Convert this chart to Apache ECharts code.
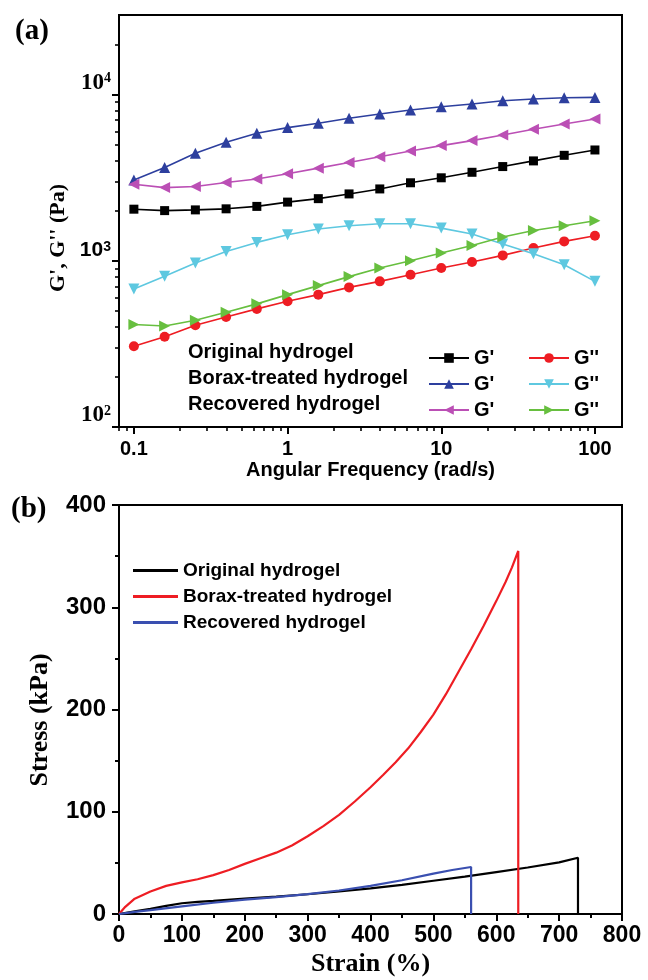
<!DOCTYPE html>
<html><head><meta charset="utf-8">
<script src="https://cdn.jsdelivr.net/npm/echarts@6/dist/echarts.min.js"></script>
<style>html,body{margin:0;padding:0;background:#fff}#c{width:648px;height:980px}</style>
</head><body><div id="c"></div>
<script>
// ---------- Panel (a): rheology ----------
const freq = [0.1, 0.1585, 0.2512, 0.3981, 0.631, 1, 1.585, 2.512, 3.981, 6.31, 10, 15.85, 25.12, 39.81, 63.1, 100];
const origGp   = [2040, 2000, 2020, 2050, 2120, 2250, 2360, 2520, 2700, 2940, 3150, 3400, 3680, 3980, 4300, 4630];
const origGpp  = [306, 349, 409, 459, 513, 570, 625, 691, 751, 824, 904, 982, 1076, 1191, 1306, 1413];
const boraxGp  = [3060, 3630, 4430, 5150, 5830, 6310, 6700, 7180, 7620, 8050, 8430, 8750, 9160, 9370, 9550, 9590];
const boraxGpp = [676, 805, 968, 1137, 1288, 1432, 1549, 1622, 1667, 1667, 1570, 1445, 1259, 1102, 946, 751];
const recGp    = [2880, 2750, 2790, 2950, 3100, 3330, 3600, 3890, 4220, 4570, 4920, 5270, 5700, 6170, 6640, 7110];
const recGpp   = [413, 405, 438, 490, 550, 625, 708, 802, 904, 1000, 1112, 1235, 1387, 1520, 1622, 1738];
const freqMajor = [0.1, 1, 10, 100];
const freqMinor = [0.08, 0.09, 0.2, 0.3, 0.4, 0.5, 0.6, 0.7, 0.8, 0.9, 2, 3, 4, 5, 6, 7, 8, 9, 20, 30, 40, 50, 60, 70, 80, 90];
const modMajor = [100, 1000, 10000];
const modMinor = [200, 300, 400, 500, 600, 700, 800, 900, 2000, 3000, 4000, 5000, 6000, 7000, 8000, 9000, 20000];
const rowLabels = ['Original hydrogel', 'Borax-treated hydrogel', 'Recovered hydrogel'];

// ---------- Panel (b): tensile ----------
const strainOrig  = [0, 25, 50, 75, 100, 125, 150, 200, 250, 300, 350, 400, 450, 500, 550, 600, 650, 700, 730, 730];
const stressOrig  = [0, 2.5, 5, 8, 10.5, 11.8, 12.8, 15, 17, 19.3, 22, 25, 28.5, 32.5, 36.5, 41, 45.5, 50.5, 55, 0];
const strainBorax = [0, 10, 25, 50, 75, 100, 125, 150, 175, 200, 225, 250, 275, 300, 325, 350, 375, 400, 420, 440, 460, 480, 500, 520, 540, 560, 580, 600, 615, 625, 635, 635];
const stressBorax = [0, 7, 15, 22, 27.5, 31, 34, 38, 43, 49, 54.5, 60, 67, 76, 86, 97, 110, 124, 136, 148.5, 162, 178, 195, 215, 237, 259, 282, 306, 325, 339, 355, 0];
const strainRec   = [0, 25, 50, 100, 150, 200, 250, 300, 350, 400, 450, 500, 530, 560, 560];
const stressRec   = [0, 2, 3.8, 7.5, 11, 14, 16.5, 19.5, 23, 27.5, 33, 39.5, 43, 46, 0];
const tensileNames = ['Original hydrogel', 'Borax-treated hydrogel', 'Recovered hydrogel'];

const SANS = '"Liberation Sans", Arial, sans-serif';
const SERIF = '"Liberation Serif", "Times New Roman", serif';

function pairs(xs, ys) { return xs.map((x, i) => [x, ys[i]]); }

const chart = echarts.init(document.getElementById('c'), null, {renderer: 'canvas'});

const rheo = [
  {name: "Original G'", data: origGp, color: '#000000', symbol: 'rect', size: 9, rot: 0},
  {name: "Borax G'", data: boraxGp, color: '#2d3f9e', symbol: 'triangle', size: 11, rot: 0},
  {name: "Recovered G'", data: recGp, color: '#bb4fb5', symbol: 'triangle', size: 11, rot: 90},
  {name: "Original G''", data: origGpp, color: '#ee1d23', symbol: 'circle', size: 10, rot: 0},
  {name: "Borax G''", data: boraxGpp, color: '#5ec8e0', symbol: 'triangle', size: 11, rot: 180},
  {name: "Recovered G''", data: recGpp, color: '#67bf3f', symbol: 'triangle', size: 11, rot: -90}
];

const series = rheo.map(s => ({
  type: 'line', name: s.name, xAxisIndex: 0, yAxisIndex: 0,
  data: pairs(freq, s.data),
  symbol: s.symbol, symbolSize: s.size, symbolRotate: s.rot, showSymbol: true,
  lineStyle: {color: s.color, width: 1.6}, itemStyle: {color: s.color},
  z: 3
}));

const tens = [
  {name: tensileNames[0], x: strainOrig, y: stressOrig, color: '#000000'},
  {name: tensileNames[1], x: strainBorax, y: stressBorax, color: '#ee1d23'},
  {name: tensileNames[2], x: strainRec, y: stressRec, color: '#3a4fb0'}
];
tens.forEach(s => series.push({
  type: 'line', name: s.name, xAxisIndex: 2, yAxisIndex: 2,
  data: pairs(s.x, s.y), showSymbol: false, symbol: 'none',
  lineStyle: {color: s.color, width: 2.2}, itemStyle: {color: s.color}, z: 3
}));

const frameAxisLine = {show: true, onZero: false, lineStyle: {color: '#000', width: 2}};
const majorTick = {show: true, length: 7, lineStyle: {color: '#000', width: 2}};

function powLabel(v) {
  const e = Math.round(Math.log10(v));
  if (e === 3) return '{a|10}{as|' + e + '}';
  return '{t|10}{ts|' + e + '}';
}

const option = {
  animation: false,
  backgroundColor: '#fff',
  title: [
    {text: '(a)', left: 10, top: 12, textStyle: {fontFamily: SERIF, fontWeight: 'bold', fontSize: 29, color: '#000'}},
    {text: '(b)', left: 6, top: 490, textStyle: {fontFamily: SERIF, fontWeight: 'bold', fontSize: 29, color: '#000'}}
  ],
  grid: [
    {left: 119, top: 15, width: 503, height: 412, show: true, borderColor: '#000', borderWidth: 2, backgroundColor: 'transparent', containLabel: false, outerBoundsMode: 'none'},
    {left: 119, top: 505, width: 503, height: 409, show: true, borderColor: '#000', borderWidth: 2, backgroundColor: 'transparent', containLabel: false, outerBoundsMode: 'none'}
  ],
  xAxis: [
    {type: 'log', gridIndex: 0, position: 'bottom', min: 0.08, max: 150, logBase: 10,
     axisLine: frameAxisLine,
     axisTick: Object.assign({}, majorTick, {customValues: freqMajor}),
     axisLabel: {customValues: freqMajor, formatter: v => String(+(+v).toPrecision(3)), color: '#000', fontFamily: SANS, fontWeight: 'bold', fontSize: 20, margin: 12},
     splitLine: {show: false}, minorTick: {show: false},
     name: 'Angular Frequency (rad/s)', nameLocation: 'middle', nameGap: 33,
     nameTextStyle: {color: '#000', fontFamily: SANS, fontWeight: 'bold', fontSize: 20}},
    {type: 'log', gridIndex: 0, position: 'bottom', min: 0.08, max: 150, logBase: 10,
     axisLine: {show: false},
     axisTick: {show: true, length: 4, lineStyle: {color: '#000', width: 1.6}, customValues: freqMinor},
     axisLabel: {show: false}, splitLine: {show: false}},
    {type: 'value', gridIndex: 1, position: 'bottom', min: 0, max: 800, interval: 100,
     axisLine: frameAxisLine, axisTick: majorTick,
     minorTick: {show: true, splitNumber: 2, length: 4, lineStyle: {color: '#000', width: 2}},
     axisLabel: {color: '#000', fontFamily: SANS, fontWeight: 'bold', fontSize: 23, margin: 10},
     splitLine: {show: false}, minorSplitLine: {show: false},
     name: 'Strain (%)', nameLocation: 'middle', nameGap: 37,
     nameTextStyle: {color: '#000', fontFamily: SERIF, fontWeight: 'bold', fontSize: 26}}
  ],
  yAxis: [
    {type: 'log', gridIndex: 0, position: 'left', min: 100, max: 30000, logBase: 10,
     axisLine: frameAxisLine,
     axisTick: Object.assign({}, majorTick, {customValues: modMajor}),
     axisLabel: {customValues: modMajor, formatter: powLabel, margin: 8, verticalAlign: 'bottom',
       rich: {
         t: {fontFamily: SERIF, fontWeight: 'bold', fontSize: 23, color: '#000', verticalAlign: 'bottom'},
         ts: {fontFamily: SERIF, fontWeight: 'bold', fontSize: 14, color: '#000', verticalAlign: 'top'},
         a: {fontFamily: SANS, fontWeight: 'bold', fontSize: 21, color: '#000', verticalAlign: 'bottom'},
         as: {fontFamily: SANS, fontWeight: 'bold', fontSize: 14, color: '#000', verticalAlign: 'top'}
       }},
     splitLine: {show: false},
     name: "G', G'' (Pa)", nameLocation: 'middle', nameGap: 50,
     nameTextStyle: {color: '#000', fontFamily: SERIF, fontWeight: 'bold', fontSize: 22, padding: [0, 34, 0, 0]}},
    {type: 'log', gridIndex: 0, position: 'left', min: 100, max: 30000, logBase: 10,
     axisLine: {show: false},
     axisTick: {show: true, length: 4, lineStyle: {color: '#000', width: 1.6}, customValues: modMinor},
     axisLabel: {show: false}, splitLine: {show: false}},
    {type: 'value', gridIndex: 1, position: 'left', min: 0, max: 400, interval: 100,
     axisLine: frameAxisLine, axisTick: majorTick,
     minorTick: {show: true, splitNumber: 2, length: 4, lineStyle: {color: '#000', width: 2}},
     axisLabel: {color: '#000', fontFamily: SANS, fontWeight: 'bold', fontSize: 24, margin: 13},
     splitLine: {show: false}, minorSplitLine: {show: false},
     name: 'Stress (kPa)', nameLocation: 'middle', nameGap: 66,
     nameTextStyle: {color: '#000', fontFamily: SERIF, fontWeight: 'bold', fontSize: 26, padding: [0, 21, 0, 0]}}
  ],
  legend: [
    {data: ["Original G'", "Borax G'", "Recovered G'"], orient: 'vertical', left: 423, top: 343,
     itemWidth: 40, itemHeight: 12, itemGap: 6, formatter: () => "G'",
     textStyle: {color: '#000', fontFamily: SANS, fontWeight: 'bold', fontSize: 20, lineHeight: 20}, selectedMode: false},
    {data: ["Original G''", "Borax G''", "Recovered G''"], orient: 'vertical', left: 523, top: 343,
     itemWidth: 40, itemHeight: 12, itemGap: 6, formatter: () => "G''",
     textStyle: {color: '#000', fontFamily: SANS, fontWeight: 'bold', fontSize: 20, lineHeight: 20}, selectedMode: false},
    {data: tensileNames, orient: 'vertical', left: 128, top: 556, icon: 'rect',
     itemWidth: 45, itemHeight: 3, itemGap: 7,
     textStyle: {color: '#000', fontFamily: SANS, fontWeight: 'bold', fontSize: 19, lineHeight: 19}, selectedMode: false}
  ],
  graphic: rowLabels.map((t, i) => ({
    type: 'text', left: 188, top: 342 + i * 26,
    style: {text: t, fill: '#000', font: 'bold 20px ' + SANS}
  })),
  series: series
};
chart.setOption(option);
</script></body></html>
